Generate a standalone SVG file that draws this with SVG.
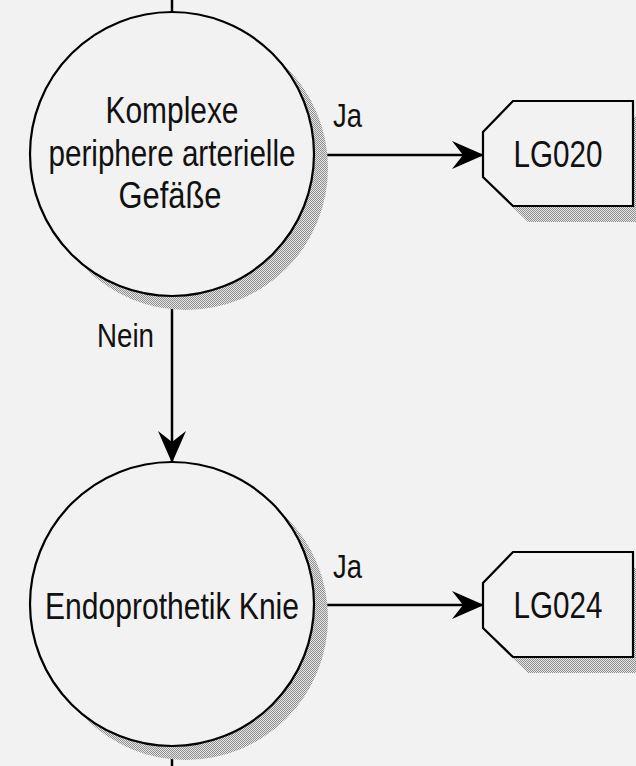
<svg xmlns="http://www.w3.org/2000/svg" width="636" height="766" viewBox="0 0 636 766">
  <defs>
    <!-- dithered drop shadow fill -->
    <pattern id="dither" width="2" height="2" patternUnits="userSpaceOnUse">
      <rect x="0" y="0" width="1" height="1" fill="#8e8e8e"/>
      <rect x="1" y="1" width="1" height="1" fill="#8e8e8e"/>
      <rect x="1" y="0" width="1" height="1" fill="#e6e6e6"/>
      <rect x="0" y="1" width="1" height="1" fill="#e6e6e6"/>
    </pattern>
    <marker id="arrow" viewBox="0 0 32 30" refX="32" refY="15" markerWidth="32" markerHeight="30" markerUnits="userSpaceOnUse" orient="auto">
      <path d="M0,1 L32,15 L0,29 L11,15 Z" fill="#000"/>
    </marker>
    <style>
      .node { fill: #f2f2f2; stroke: #000; stroke-width: 2.2; }
      .shadow { fill: url(#dither); }
      .edge { fill: none; stroke: #000; stroke-width: 2.5; }
      .label { font-family: "Liberation Sans", Arial, sans-serif; font-size: 36px; fill: #111; text-anchor: middle; }
      .edge-label { font-family: "Liberation Sans", Arial, sans-serif; font-size: 33px; fill: #111; }
    </style>
  </defs>

  <rect x="0" y="0" width="636" height="766" fill="#f2f2f2"/>

  <!-- connectors -->
  <g id="connectors">
    <line class="edge" x1="172" y1="0" x2="172" y2="12"/>
    <line class="edge" x1="313" y1="155" x2="484" y2="155" marker-end="url(#arrow)"/>
    <line class="edge" x1="172" y1="297" x2="172" y2="463" marker-end="url(#arrow)"/>
    <line class="edge" x1="313" y1="605" x2="484" y2="605" marker-end="url(#arrow)"/>
    <line class="edge" x1="172" y1="746" x2="172" y2="766"/>
    <text class="edge-label" x="333" y="127" textLength="29" lengthAdjust="spacingAndGlyphs">Ja</text>
    <text class="edge-label" x="97" y="347" textLength="57" lengthAdjust="spacingAndGlyphs">Nein</text>
    <text class="edge-label" x="333" y="578" textLength="29" lengthAdjust="spacingAndGlyphs">Ja</text>
  </g>

  <!-- decision: Komplexe periphere arterielle Gefäße -->
  <g id="decision-gefaesse">
    <circle class="shadow" cx="186" cy="168" r="142"/>
    <circle class="node" cx="172" cy="154" r="142"/>
    <text class="label" x="172" y="123" textLength="133" lengthAdjust="spacingAndGlyphs">Komplexe</text>
    <text class="label" x="172" y="166" textLength="247" lengthAdjust="spacingAndGlyphs">periphere arterielle</text>
    <text class="label" x="170" y="208" textLength="103" lengthAdjust="spacingAndGlyphs">Gefäße</text>
  </g>

  <!-- result: LG020 -->
  <g id="result-lg020">
    <path class="shadow" d="M528,117 L651,117 L651,222 L528,222 L498,193 L498,148 Z"/>
    <path class="node" d="M513,101 L633,101 L633,206 L513,206 L483,177 L483,132 Z"/>
    <text class="label" x="558" y="167" textLength="89" lengthAdjust="spacingAndGlyphs">LG020</text>
  </g>

  <!-- decision: Endoprothetik Knie -->
  <g id="decision-knie">
    <circle class="shadow" cx="186" cy="618" r="142"/>
    <circle class="node" cx="172" cy="604" r="142"/>
    <text class="label" x="172" y="619" textLength="254" lengthAdjust="spacingAndGlyphs">Endoprothetik Knie</text>
  </g>

  <!-- result: LG024 -->
  <g id="result-lg024">
    <path class="shadow" d="M528,568 L651,568 L651,673 L528,673 L498,644 L498,599 Z"/>
    <path class="node" d="M513,552 L633,552 L633,657 L513,657 L483,628 L483,583 Z"/>
    <text class="label" x="558" y="618" textLength="89" lengthAdjust="spacingAndGlyphs">LG024</text>
  </g>
</svg>
